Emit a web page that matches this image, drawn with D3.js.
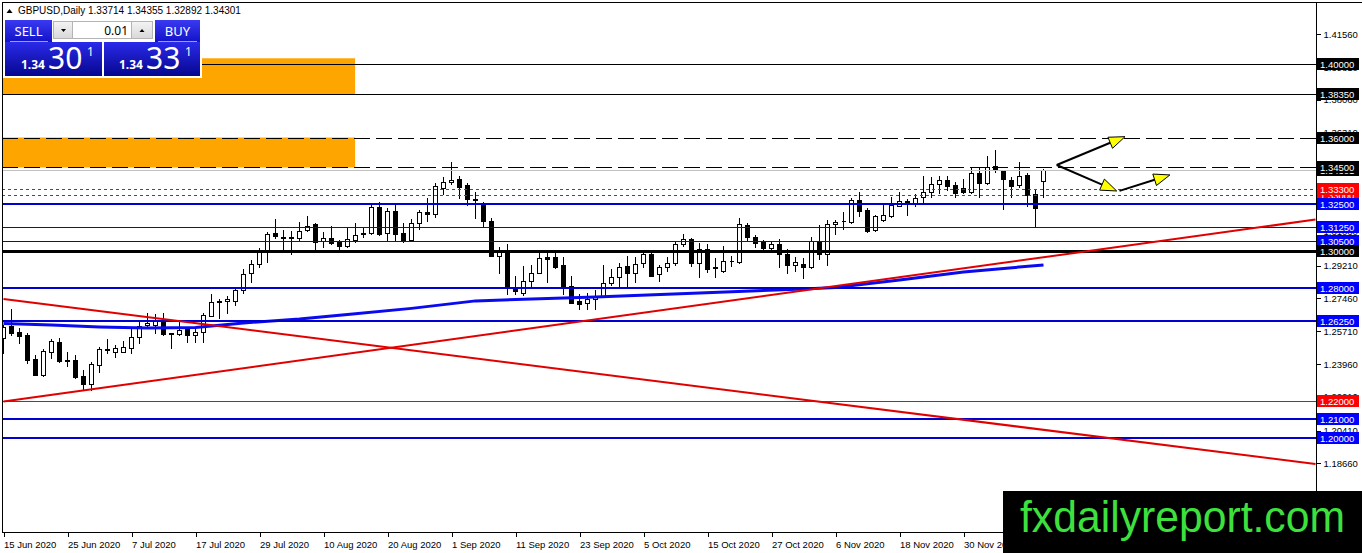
<!DOCTYPE html>
<html>
<head>
<meta charset="utf-8">
<script src="https://d3js.org/d3.v7.min.js"></script>
<style>
  body { margin: 0; background: #fff; overflow: hidden; }
  text { font-family: "Liberation Sans", Arial, sans-serif; }
  .panel text { font-family: "Noto Sans", "Open Sans", sans-serif; }
</style>
</head>
<body>
<div id="chart"></div>
<script>
// GBPUSD daily bars, 15 Jun 2020 .. 14 Dec 2020
const opens = [1.2533,1.2599,1.2569,1.2551,1.2423,1.2338,1.2462,1.2515,1.2413,1.2418,
  1.2332,1.2290,1.2391,1.2470,1.2462,1.2462,1.2483,1.2539,1.2604,1.2604,
  1.2631,1.2557,1.2555,1.2582,1.2551,1.2569,1.2654,1.2728,1.2731,1.2734,
  1.2791,1.2880,1.2928,1.2996,1.3094,1.3071,1.3074,1.3067,1.3112,1.3142,
  1.3053,1.3067,1.3049,1.3028,1.3059,1.3092,1.3094,1.3236,1.3094,1.3215,
  1.3094,1.3058,1.3147,1.3209,1.3195,1.3334,1.3366,1.3382,1.3352,1.3277,
  1.3249,1.3161,1.2974,1.2996,1.2800,1.2777,1.2841,1.2884,1.2969,1.2969,
  1.2925,1.2813,1.2734,1.2720,1.2745,1.2759,1.2827,1.2859,1.2919,1.2884,
  1.2934,1.2982,1.2875,1.2912,1.2934,1.3035,1.3062,1.2934,1.3009,1.2915,
  1.2893,1.2946,1.2942,1.3139,1.3076,1.3049,1.3014,1.3037,1.2983,1.2925,
  1.2928,1.2912,1.3054,1.2983,1.3143,1.3158,1.3156,1.3272,1.3217,1.3110,
  1.3165,1.3186,1.3242,1.3266,1.3254,1.3289,1.3316,1.3355,1.3378,1.3352,
  1.3334,1.3316,1.3417,1.3364,1.3453,1.3429,1.3378,1.3352,1.3405,1.3303,
  1.33714];
const highs = [1.2604,1.2688,1.2587,1.2563,1.2444,1.2475,1.2528,1.2537,1.2462,1.2444,
  1.2364,1.2409,1.2489,1.2528,1.2498,1.2519,1.2587,1.2622,1.2667,1.2663,
  1.2667,1.2563,1.2628,1.2595,1.2587,1.2667,1.2768,1.2742,1.2759,1.2800,
  1.2902,1.2951,1.3014,1.3099,1.3169,1.3112,1.3108,1.3156,1.3186,1.3147,
  1.3099,1.3133,1.3058,1.3121,1.3147,1.3121,1.3250,1.3263,1.3227,1.3245,
  1.3150,1.3169,1.3218,1.3281,1.3361,1.3396,1.3476,1.3398,1.3361,1.3316,
  1.3263,1.3174,1.3019,1.3035,1.2866,1.2919,1.2923,1.2996,1.3005,1.3005,
  1.2966,1.2866,1.2770,1.2777,1.2790,1.2925,1.2902,1.2937,1.2973,1.2966,
  1.2990,1.2990,1.2925,1.2969,1.3053,1.3089,1.3067,1.3041,1.3037,1.2961,
  1.3026,1.2973,1.3174,1.3147,1.3085,1.3058,1.3049,1.3062,1.3009,1.2969,
  1.2961,1.3076,1.3139,1.3165,1.3165,1.3209,1.3281,1.3313,1.3227,1.3191,
  1.3245,1.3289,1.3316,1.3276,1.3304,1.3400,1.3393,1.3400,1.3400,1.3369,
  1.3382,1.3441,1.3441,1.3507,1.3539,1.3433,1.3396,1.3476,1.3414,1.3327,
  1.34355];
const lows = [1.2455,1.2551,1.2507,1.2400,1.2335,1.2332,1.2427,1.2409,1.2386,1.2320,
  1.2257,1.2257,1.2355,1.2453,1.2435,1.2460,1.2457,1.2507,1.2587,1.2563,
  1.2551,1.2480,1.2551,1.2515,1.2511,1.2515,1.2650,1.2640,1.2670,1.2711,
  1.2774,1.2836,1.2912,1.2942,1.3067,1.3005,1.2983,1.3054,1.3108,1.3001,
  1.3019,1.3036,1.3005,1.3022,1.3049,1.3073,1.3091,1.3085,1.3058,1.3054,
  1.3049,1.3054,1.3115,1.3161,1.3182,1.3304,1.3357,1.3281,1.3245,1.3174,
  1.3133,1.2973,1.2884,1.2770,1.2770,1.2764,1.2809,1.2881,1.2836,1.2907,
  1.2770,1.2720,1.2688,1.2688,1.2688,1.2755,1.2818,1.2809,1.2813,1.2836,
  1.2916,1.2864,1.2841,1.2894,1.2925,1.3026,1.2919,1.2862,1.2889,1.2862,
  1.2889,1.2919,1.2937,1.3058,1.3022,1.2996,1.3005,1.2916,1.2880,1.2894,
  1.2854,1.2907,1.2956,1.2925,1.3089,1.3115,1.3151,1.3186,1.3103,1.3106,
  1.3161,1.3182,1.3237,1.3191,1.3242,1.3263,1.3289,1.3309,1.3325,1.3286,
  1.3309,1.3311,1.3286,1.3357,1.3421,1.3222,1.3286,1.3343,1.3239,1.3126,
  1.32892];
const closes = [1.2595,1.2563,1.2547,1.2418,1.2338,1.2467,1.2521,1.2412,1.2416,1.2325,
  1.2290,1.2396,1.2475,1.2474,1.2480,1.2489,1.2539,1.2601,1.2617,1.2626,
  1.2555,1.2559,1.2578,1.2551,1.2569,1.2658,1.2725,1.2731,1.2742,1.2791,
  1.2875,1.2928,1.2996,1.3089,1.3081,1.3074,1.3068,1.3108,1.3135,1.3046,
  1.3067,1.3041,1.3028,1.3062,1.3085,1.3096,1.3236,1.3091,1.3215,1.3089,
  1.3058,1.3147,1.3209,1.3195,1.3346,1.3366,1.3378,1.3343,1.3275,1.3273,
  1.3160,1.2974,1.2996,1.2806,1.2788,1.2841,1.2884,1.2960,1.2957,1.2912,
  1.2809,1.2724,1.2717,1.2743,1.2752,1.2827,1.2859,1.2916,1.2884,1.2930,
  1.2982,1.2866,1.2912,1.2937,1.3037,1.3062,1.2934,1.3009,1.2902,1.2910,
  1.2946,1.2948,1.3144,1.3076,1.3041,1.3014,1.3037,1.2982,1.2925,1.2939,
  1.2912,1.3054,1.2982,1.3144,1.3156,1.3162,1.3272,1.3215,1.3108,1.3186,
  1.3191,1.3245,1.3266,1.3254,1.3281,1.3316,1.3357,1.3378,1.3348,1.3311,
  1.3316,1.3417,1.3364,1.3449,1.3435,1.3383,1.3348,1.3400,1.3298,1.3231,
  1.34301];

// thick blue moving average, sampled at bar indices
const maBars   = [0, 6, 12, 18, 24, 30, 37, 43, 51, 59, 74, 87, 100, 104, 112, 120, 130];
const maValues = [1.2612,1.2604,1.2594,1.2588,1.2591,1.2615,1.2636,1.2660,1.2693,1.2733,
  1.2754,1.2775,1.2797,1.2805,1.2845,1.2887,1.2925];

// horizontal levels (drawing order = label stacking order)
const levelPrices = [1.40000,1.38350,1.36000,1.34500,1.33000,1.33300,1.32500,1.31250,
  1.30500,1.30000,1.28000,1.26250,1.22000,1.21000,1.20000];
const levelKinds  = ["solid","solid","dash","dash","dot","dot","blue2","blue1",
  "blue1","black3","blue2","blue2","red1","blue2","blue2"];
const bidPrice = 1.34301;

// orange zones: top price, bottom price, end bar
const zoneTops    = [1.4028, 1.3605];
const zoneBottoms = [1.3835, 1.3445];
const zoneEndBar  = 43.95;

// red trend lines [bar, price, bar, price]
const trendLines = [[0, 1.2743, 164, 1.1862], [0, 1.2196, 164, 1.3167]];
// arrows [bar, price, bar, price]
const arrows = [[131.65, 1.34585, 140.19, 1.36096],
                [131.65, 1.34585, 139.15, 1.33197],
                [139.5, 1.3320, 145.8, 1.34052]];

const priceTicks = [1.41560,1.39810,1.38060,1.36310,1.34560,1.32810,1.31060,1.29210,
  1.27460,1.25710,1.23960,1.22210,1.20410,1.18660];
const timeTickBars = d3.range(0, 121, 8);

const dates = d3.timeDay.range(new Date(2020, 5, 15), new Date(2020, 11, 15))
  .filter(d => d.getDay() % 6 !== 0);
const fmtDate = d3.timeFormat("%-d %b %Y");

const kindStyle = {
  solid:  {stroke: "#000", w: 1, dash: null, label: "#000"},
  dash:   {stroke: "#000", w: 1, dash: "16,6", label: "#000"},
  dot:    {stroke: "#ff0000", w: 1, dash: "3,3", label: "#ff0000"},
  blue2:  {stroke: "#0000d0", w: 2, dash: null, label: "#0000ff"},
  blue1:  {stroke: "#0000ff", w: 1, dash: null, label: "#0000ff"},
  black3: {stroke: "#000", w: 3, dash: null, label: "#000"},
  red1:   {stroke: "#ff0000", w: 1, dash: null, label: "#ff0000"}
};

const W = 1362, H = 553;
const L = 2, T = 2, R = 1316, B = 532;

const x = d3.scaleLinear().domain([0, 164]).range([3.5, 1315.5]);
const y = d3.scaleLinear().domain([1.18660, 1.41560]).range([463.3, 34.3]);

const svg = d3.select("#chart").append("svg")
  .attr("width", W).attr("height", H);

const defs = svg.append("defs");
defs.append("clipPath").attr("id", "clip")
  .append("rect").attr("x", L + 1).attr("y", T + 1).attr("width", R - L - 1).attr("height", B - T - 1);
const g1 = defs.append("linearGradient").attr("id", "priceGrad").attr("x1", 0).attr("y1", 0).attr("x2", 0).attr("y2", 1);
g1.append("stop").attr("offset", "0%").attr("stop-color", "#2a2aea");
g1.append("stop").attr("offset", "100%").attr("stop-color", "#06068e");
const g2 = defs.append("linearGradient").attr("id", "btnGrad").attr("x1", 0).attr("y1", 0).attr("x2", 0).attr("y2", 1);
g2.append("stop").attr("offset", "0%").attr("stop-color", "#3a3af2");
g2.append("stop").attr("offset", "100%").attr("stop-color", "#1212c8");
const g3 = defs.append("linearGradient").attr("id", "grayGrad").attr("x1", 0).attr("y1", 0).attr("x2", 0).attr("y2", 1);
g3.append("stop").attr("offset", "0%").attr("stop-color", "#f4f4f4");
g3.append("stop").attr("offset", "100%").attr("stop-color", "#d8d8d8");

svg.append("rect").attr("width", W).attr("height", H).attr("fill", "#fff");

const plot = svg.append("g").attr("clip-path", "url(#clip)");

// orange zones
plot.selectAll("rect.zone").data(zoneTops).join("rect")
  .attr("class", "zone")
  .attr("x", L + 1)
  .attr("y", d => y(d))
  .attr("width", x(zoneEndBar) - L - 1)
  .attr("height", (d, i) => y(zoneBottoms[i]) - y(d))
  .attr("fill", "#ffa500");

// candles
const bars = d3.range(opens.length);
const cg = plot.append("g").attr("shape-rendering", "crispEdges");
const px = i => Math.floor(x(i));
cg.selectAll("line.wick").data(bars).join("line")
  .attr("class", "wick")
  .attr("x1", i => px(i) + 0.5).attr("x2", i => px(i) + 0.5)
  .attr("y1", i => Math.round(y(highs[i]))).attr("y2", i => Math.round(y(lows[i])) + 1)
  .attr("stroke", "#000");
cg.selectAll("path.body").data(bars).join("path")
  .attr("class", "body")
  .attr("d", i => {
    const t = Math.round(y(Math.max(opens[i], closes[i]))) + 0.5;
    const b = Math.round(y(Math.min(opens[i], closes[i]))) + 0.5;
    const x0 = px(i) - 1.5, x1 = px(i) + 2.5;
    return `M${x0},${t}H${x1}V${b}H${x0}Z`;
  })
  .attr("fill", i => closes[i] >= opens[i] ? "#fff" : "#000")
  .attr("stroke", "#000");

// moving average
plot.append("path")
  .datum(maBars)
  .attr("d", d3.line().x(b => x(b)).y((b, k) => y(maValues[k])))
  .attr("fill", "none").attr("stroke", "#0a0af0").attr("stroke-width", 3);

// bid line
plot.append("line")
  .attr("x1", L).attr("x2", R).attr("y1", Math.round(y(bidPrice)) + 0.5).attr("y2", Math.round(y(bidPrice)) + 0.5)
  .attr("stroke", "#c0c0c0");

// horizontal levels
plot.selectAll("line.level").data(levelPrices).join("line")
  .attr("class", "level")
  .attr("x1", L).attr("x2", R)
  .attr("y1", (d, i) => Math.round(y(d)) + (kindStyle[levelKinds[i]].w % 2 ? 0.5 : 0))
  .attr("y2", (d, i) => Math.round(y(d)) + (kindStyle[levelKinds[i]].w % 2 ? 0.5 : 0))
  .attr("stroke", (d, i) => kindStyle[levelKinds[i]].stroke)
  .attr("stroke-width", (d, i) => kindStyle[levelKinds[i]].w)
  .attr("stroke-dasharray", (d, i) => kindStyle[levelKinds[i]].dash)
  .attr("shape-rendering", "crispEdges");

// trend lines
plot.selectAll("line.trend").data(trendLines).join("line")
  .attr("class", "trend")
  .attr("x1", d => x(d[0])).attr("y1", d => y(d[1]))
  .attr("x2", d => x(d[2])).attr("y2", d => y(d[3]))
  .attr("stroke", "#e00000").attr("stroke-width", 2);

// arrows
arrows.forEach(a => {
  const x0 = x(a[0]), y0 = y(a[1]), x1 = x(a[2]), y1 = y(a[3]);
  const len = Math.hypot(x1 - x0, y1 - y0);
  const ux = (x1 - x0) / len, uy = (y1 - y0) / len;
  const bx = x1 - ux * 16, by = y1 - uy * 16;
  plot.append("line").attr("x1", x0).attr("y1", y0).attr("x2", bx).attr("y2", by)
    .attr("stroke", "#000").attr("stroke-width", 2);
  plot.append("path")
    .attr("d", `M${x1},${y1}L${bx - uy * 6},${by + ux * 6}L${bx + uy * 6},${by - ux * 6}Z`)
    .attr("fill", "#ffff00").attr("stroke", "#000").attr("stroke-width", 1);
});

// frame
const frame = svg.append("g").attr("stroke", "#000").attr("shape-rendering", "crispEdges");
frame.append("line").attr("x1", L + 0.5).attr("x2", L + 0.5).attr("y1", T).attr("y2", B + 1);
frame.append("line").attr("x1", L).attr("x2", W).attr("y1", T + 0.5).attr("y2", T + 0.5);
frame.append("line").attr("x1", R + 0.5).attr("x2", R + 0.5).attr("y1", T).attr("y2", B + 1);
frame.append("line").attr("x1", L).attr("x2", R + 1).attr("y1", B + 0.5).attr("y2", B + 0.5);

// price axis
const yAxis = svg.append("g").attr("transform", `translate(${R + 0.5},0)`)
  .call(d3.axisRight(y).tickValues(priceTicks).tickSize(4).tickPadding(3).tickFormat(d3.format(".5f")));
yAxis.select(".domain").remove();
yAxis.selectAll("text").attr("font-size", 9.5).attr("font-family", "Liberation Sans, Arial, sans-serif").attr("fill", "#000");
yAxis.selectAll("line").attr("stroke", "#000").attr("shape-rendering", "crispEdges");

// time axis
const xAxis = svg.append("g").attr("transform", `translate(0,${B + 0.5})`)
  .call(d3.axisBottom(x).tickValues(timeTickBars).tickSize(4).tickFormat(i => fmtDate(dates[i])));
xAxis.select(".domain").remove();
xAxis.selectAll("line").attr("stroke", "#000").attr("shape-rendering", "crispEdges");
xAxis.selectAll("text").attr("text-anchor", "start").attr("x", 0).attr("dy", "0.9em")
  .attr("font-size", 9.5).attr("font-family", "Liberation Sans, Arial, sans-serif").attr("fill", "#000");

// price labels on the axis
const labels = svg.append("g");
function priceLabel(p, color) {
  const yy = Math.round(y(p));
  labels.append("rect").attr("x", R + 1).attr("y", yy - 6).attr("width", 42).attr("height", 12)
    .attr("fill", color);
  labels.append("text").attr("x", R + 4).attr("y", yy + 3.5).attr("fill", "#fff")
    .attr("font-size", 9.5).text(d3.format(".5f")(p));
}
priceLabel(bidPrice, "#000");
levelPrices.forEach((p, i) => priceLabel(p, kindStyle[levelKinds[i]].label));

// header
svg.append("path").attr("d", "M6.5,13L12.5,13L9.5,9Z").attr("fill", "#000");
svg.append("text").attr("x", 18).attr("y", 14).attr("font-size", 10).text("GBPUSD,Daily");
svg.append("text").attr("x", 88).attr("y", 14).attr("font-size", 10).text("1.33714 1.34355 1.32892 1.34301");

// one-click trading panel
const panel = svg.append("g").attr("class", "panel");
panel.append("rect").attr("x", 3).attr("y", 18).attr("width", 199).attr("height", 60).attr("fill", "#fff");
panel.append("rect").attr("x", 5).attr("y", 20).attr("width", 47).attr("height", 22).attr("fill", "url(#btnGrad)");
panel.append("rect").attr("x", 155).attr("y", 20).attr("width", 45).attr("height", 22).attr("fill", "url(#btnGrad)");
panel.append("line").attr("x1", 10).attr("x2", 48).attr("y1", 41.5).attr("y2", 41.5).attr("stroke", "#9a9aff");
panel.append("line").attr("x1", 158).attr("x2", 197).attr("y1", 41.5).attr("y2", 41.5).attr("stroke", "#9a9aff");
panel.append("text").attr("x", 28.5).attr("y", 36).attr("text-anchor", "middle").attr("fill", "#fff")
  .attr("font-size", 13).text("SELL");
panel.append("text").attr("x", 177.5).attr("y", 36).attr("text-anchor", "middle").attr("fill", "#fff")
  .attr("font-size", 13).text("BUY");
panel.append("rect").attr("x", 53.5).attr("y", 21.5).attr("width", 19).attr("height", 17)
  .attr("fill", "url(#grayGrad)").attr("stroke", "#b4b4b4");
panel.append("rect").attr("x", 72.5).attr("y", 21.5).attr("width", 59).attr("height", 17)
  .attr("fill", "#fff").attr("stroke", "#b4b4b4");
panel.append("rect").attr("x", 131.5).attr("y", 21.5).attr("width", 21).attr("height", 17)
  .attr("fill", "url(#grayGrad)").attr("stroke", "#b4b4b4");
panel.append("path").attr("d", "M61,29L66,29L63.5,32Z").attr("fill", "#000");
panel.append("path").attr("d", "M139.5,32L144.5,32L142,29Z").attr("fill", "#000");
panel.append("text").attr("x", 128).attr("y", 34.5).attr("text-anchor", "end").attr("fill", "#000")
  .attr("font-size", 12).text("0.01");
panel.append("rect").attr("x", 5).attr("y", 42).attr("width", 97).attr("height", 34).attr("fill", "url(#priceGrad)");
panel.append("rect").attr("x", 104).attr("y", 42).attr("width", 96).attr("height", 34).attr("fill", "url(#priceGrad)");
[[21, 48, 87, "30"], [119, 146, 185, "33"]].forEach(q => {
  panel.append("text").attr("x", q[0]).attr("y", 69).attr("fill", "#fff").attr("font-size", 12)
    .attr("font-weight", "bold").text("1.34");
  panel.append("text").attr("x", q[1]).attr("y", 69).attr("fill", "#fff").attr("font-size", 30).text(q[3]);
  panel.append("text").attr("x", q[2]).attr("y", 56).attr("fill", "#fff").attr("font-size", 12).text("1");
});

// watermark
svg.append("rect").attr("x", 1003).attr("y", 491).attr("width", W - 1003).attr("height", H - 491).attr("fill", "#000");
svg.append("text").attr("x", 1020).attr("y", 532).attr("fill", "#3ee03e")
  .attr("font-size", 44).attr("textLength", 325).attr("lengthAdjust", "spacingAndGlyphs")
  .text("fxdailyreport.com");
</script>
</body>
</html>
